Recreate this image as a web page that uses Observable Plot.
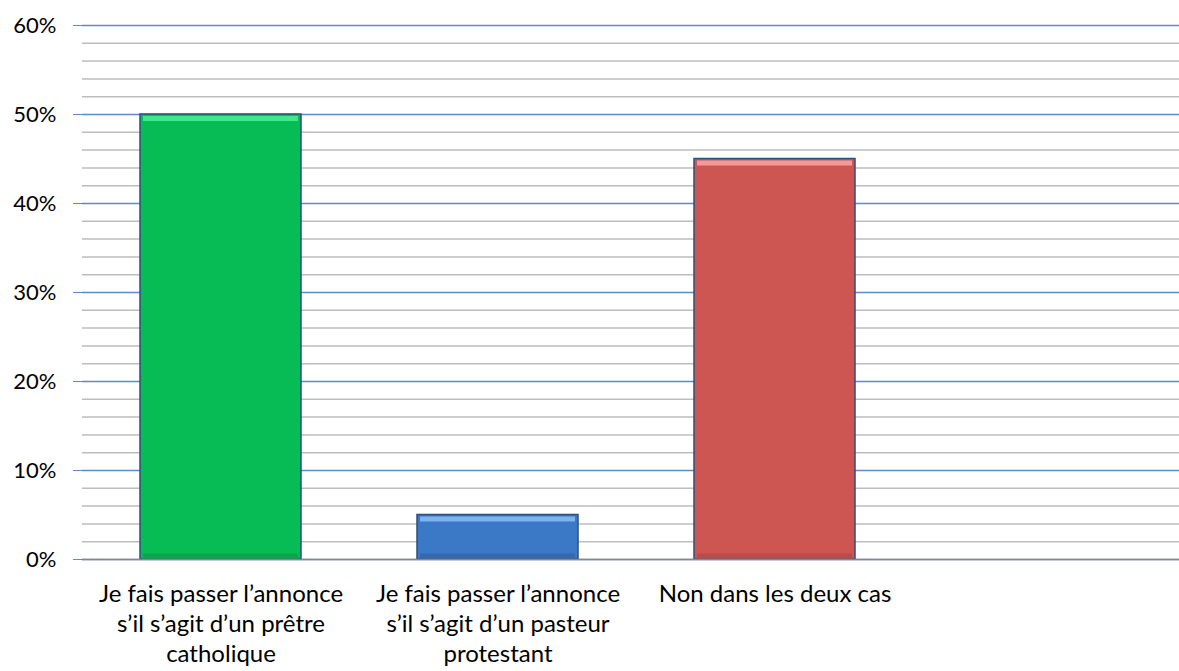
<!DOCTYPE html>
<html>
<head>
<meta charset="utf-8">
<script src="https://cdn.jsdelivr.net/npm/d3@7"></script>
<script src="https://cdn.jsdelivr.net/npm/@observablehq/plot@0.6"></script>
<style>
  html, body { margin: 0; padding: 0; background: #fff; }
  #chart svg { display: block; }
</style>
</head>
<body>
<div id="chart"></div>
<script>
const categories = [
  "Je fais passer l’annonce\ns’il s’agit d’un prêtre\ncatholique",
  "Je fais passer l’annonce\ns’il s’agit d’un pasteur\nprotestant",
  "Non dans les deux cas",
  " "
];
const values = [50, 5, 45, null];
const barColors = ["#07bb55", "#3b78c5", "#cd5653", "#ffffff"];
const highlightColors = ["#3fe88d", "#7fb2ee", "#f39a98", "#ffffff"];
const shadeColors = ["#08a74c", "#3569ad", "#b84c4a", "#ffffff"];
const majorTicks = [0, 10, 20, 30, 40, 50, 60];
const minorTicks = [2, 4, 6, 8, 12, 14, 16, 18, 22, 24, 26, 28, 32, 34, 36, 38, 42, 44, 46, 48, 52, 54, 56, 58];

const data = categories.map((c, i) => ({cat: c, v: values[i], color: barColors[i], hi: highlightColors[i], lo: shadeColors[i]}))
  .filter(d => d.v != null);

const blue = "#5b8bcb";

const chart = Plot.plot({
  width: 1179,
  height: 671,
  marginLeft: 82,
  marginTop: 25,
  marginBottom: 112,
  marginRight: 0,
  style: {fontFamily: "Lato, 'Open Sans', sans-serif", background: "#fff"},
  x: {type: "band", domain: categories, range: [82, 1190], paddingInner: 0.42, paddingOuter: 0.21, label: null},
  y: {domain: [0, 60], label: null},
  marks: [
    Plot.ruleY(minorTicks, {stroke: "#bdbdbd", strokeWidth: 1.5}),
    Plot.ruleY(majorTicks, {stroke: blue, strokeWidth: 1.5}),
    Plot.barY(data, {x: "cat", y: "v", fill: "color", stroke: "#2d4f7c", strokeWidth: 1.5}),
    Plot.tickY(data, {x: "cat", y: () => 0, stroke: "lo", strokeWidth: 5, dy: -3.5, inset: 3}),
    Plot.tickY(data, {x: "cat", y: "v", stroke: "hi", strokeWidth: 5, dy: 4, inset: 3}),
    Plot.ruleY([0], {stroke: "#878787", strokeWidth: 1.5}),
    Plot.axisY(majorTicks, {tickSize: 9, tickPadding: 17, stroke: blue, fill: "#000", fontSize: 22, line: true, tickFormat: d => d + "%", label: null}),
    Plot.axisX({tickSize: 0, tickPadding: 21, fontSize: 24, lineHeight: 1.25, fill: "#000", label: null})
  ]
});
document.getElementById("chart").appendChild(chart);
</script>
</body>
</html>
